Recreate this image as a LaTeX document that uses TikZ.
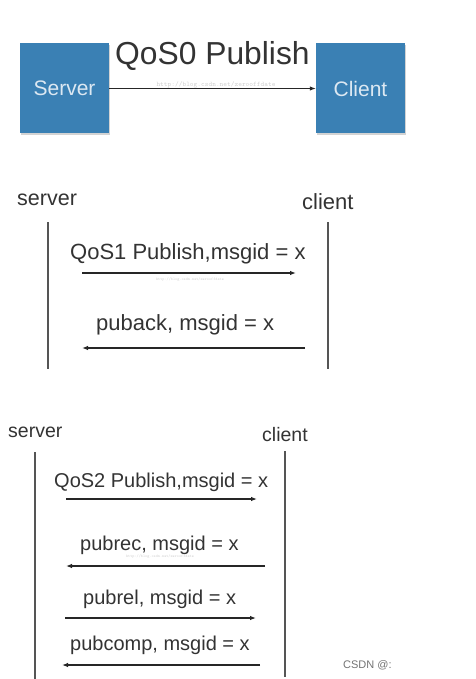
\documentclass[tikz,border=0pt]{standalone}
\usepackage{fontspec}
\setmainfont{Liberation Sans}
\usetikzlibrary{arrows.meta,shadows}
\definecolor{boxblue}{HTML}{3A80B4}
\definecolor{boxtext}{HTML}{DCE8F2}
\definecolor{txt}{HTML}{333333}
\definecolor{lifeline}{HTML}{555555}
\tikzset{
  lbl/.style={anchor=base west,inner sep=0pt,text=txt},
  msg/.style={draw=black!85,line width=1.1pt,-{Latex[length=6pt,width=4.5pt]}},
  life/.style={draw=lifeline,line width=1.3pt},
  qbox/.style={fill=boxblue,minimum width=89pt,minimum height=90pt,inner sep=0pt,text=boxtext,
     font=\fontsize{21}{24}\selectfont,
     drop shadow={shadow xshift=1pt,shadow yshift=-1.5pt,opacity=0.35}},
  wm/.style={inner sep=0pt,text=black!18,font=\ttfamily\fontsize{7}{8}\selectfont},
}
\begin{document}
\begin{tikzpicture}[x=1pt,y=-1pt]
\useasboundingbox (0,0) rectangle (475,679);
% ---- QoS0 ----
\node[qbox] (srv) at (64.5,88.5) {Server};
\node[qbox] (cli) at (360.5,88.5) {Client};
\node[lbl,font=\fontsize{31.8}{34}\selectfont] (q0) at (115,65) {QoS0 Publish};
\node[wm] (wm0) at (216,85) {http://blog.csdn.net/zerooffdate};
\draw[msg] (srv.east) -- (cli.west);
% ---- QoS1 ----
\node[lbl,font=\fontsize{21.5}{24}\selectfont] (s1) at (17,205) {server};
\node[lbl,font=\fontsize{22}{24}\selectfont] (c1) at (302,209) {client};
\coordinate (s1t) at (48,222); \coordinate (s1b) at (48,369);
\coordinate (c1t) at (328,222); \coordinate (c1b) at (328,369);
\draw[life] (s1t) -- (s1b);
\draw[life] (c1t) -- (c1b);
\node[lbl,font=\fontsize{22}{24}\selectfont] (m11) at (70,259) {QoS1 Publish,msgid = x};
\coordinate (a11s) at (82,273); \coordinate (a11e) at (296,273);
\draw[msg] (a11s) -- (a11e);
\node[wm,font=\ttfamily\fontsize{4}{5}\selectfont] (wm1) at (190,280) {http://blog.csdn.net/zerooffdate};
\node[lbl,font=\fontsize{22}{24}\selectfont] (m12) at (96,330) {puback, msgid = x};
\coordinate (a12s) at (305,348); \coordinate (a12e) at (82,348);
\draw[msg] (a12s) -- (a12e);
% ---- QoS2 ----
\node[lbl,font=\fontsize{19.5}{22}\selectfont] (s2) at (8,437) {server};
\node[lbl,font=\fontsize{19.5}{22}\selectfont] (c2) at (262,441) {client};
\coordinate (s2t) at (35,452); \coordinate (s2b) at (35,679);
\coordinate (c2t) at (285,451); \coordinate (c2b) at (285,677);
\draw[life] (s2t) -- (s2b);
\draw[life] (c2t) -- (c2b);
\node[lbl,font=\fontsize{20}{22}\selectfont] (m21) at (54,487) {QoS2 Publish,msgid = x};
\coordinate (a21s) at (66,499); \coordinate (a21e) at (257,499);
\draw[msg] (a21s) -- (a21e);
\node[lbl,font=\fontsize{20}{22}\selectfont] (m22) at (80,550) {pubrec, msgid = x};
\node[wm,font=\ttfamily\fontsize{4}{5}\selectfont] (wm2) at (160,557) {http://blog.csdn.net/zerooffdate};
\coordinate (a22s) at (265,566); \coordinate (a22e) at (66,566);
\draw[msg] (a22s) -- (a22e);
\node[lbl,font=\fontsize{20}{22}\selectfont] (m23) at (83,604) {pubrel, msgid = x};
\coordinate (a23s) at (65,618); \coordinate (a23e) at (256,618);
\draw[msg] (a23s) -- (a23e);
\node[lbl,font=\fontsize{20}{22}\selectfont] (m24) at (70,650) {pubcomp, msgid = x};
\coordinate (a24s) at (260,665); \coordinate (a24e) at (62,665);
\draw[msg] (a24s) -- (a24e);
\node[lbl,text=black!55,font=\fontsize{11}{12}\selectfont] (csdn) at (343,668) {CSDN @:};
\end{tikzpicture}
\end{document}
